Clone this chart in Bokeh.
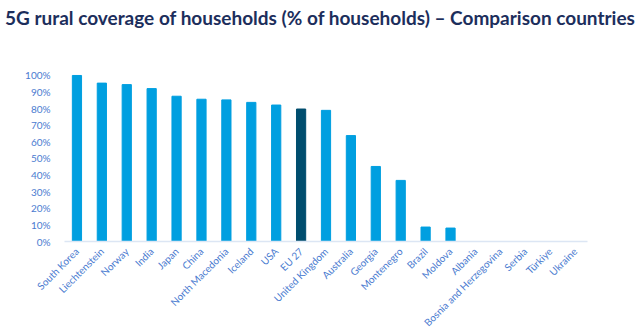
import math
from bokeh.plotting import figure
from bokeh.layouts import column
from bokeh.models import ColumnDataSource, NumeralTickFormatter, FixedTicker, Div
from bokeh.embed import file_html
from bokeh.resources import INLINE

countries = ["South Korea", "Liechtenstein", "Norway", "India", "Japan", "China",
             "North Macedonia", "Iceland", "USA", "EU 27", "United Kingdom", "Australia",
             "Georgia", "Montenegro", "Brazil", "Moldova", "Albania",
             "Bosnia and Herzegovina", "Serbia", "Türkiye", "Ukraine"]
coverage = [1.00, 0.954, 0.945, 0.921, 0.875, 0.857, 0.853, 0.838, 0.822, 0.798, 0.790,
            0.638, 0.452, 0.368, 0.087, 0.081, 0.0, 0.0, 0.0, 0.0, 0.0]
highlight = "EU 27"
y_ticks = [0, 0.1, 0.2, 0.3, 0.4, 0.5, 0.6, 0.7, 0.8, 0.9, 1.0]
title_text = "5G rural coverage of households (% of households) – Comparison countries"

title = Div(text=title_text, width=643, height=36, margin=0,
            styles={"font-family": "Lato", "font-size": "19px", "font-weight": "bold",
                    "color": "#1C2E5C", "padding-left": "5px", "padding-top": "6px",
                    "white-space": "nowrap", "line-height": "23px"})

colors = ["#004D6E" if c == highlight else "#009FE0" for c in countries]
src = ColumnDataSource(dict(x=countries, top=coverage, color=colors))

p = figure(x_range=countries, y_range=(0, 1.03), width=643, height=299,
           output_backend="svg", toolbar_location=None,
           min_border_left=64, min_border_right=56, min_border_top=34, min_border_bottom=91)

p.vbar(x="x", top="top", width=0.37, color="color", source=src)

p.xgrid.visible = False
p.ygrid.visible = False
p.outline_line_color = None

p.yaxis.ticker = FixedTicker(ticks=y_ticks)
p.yaxis.formatter = NumeralTickFormatter(format="0%")
p.yaxis.axis_line_color = None
p.yaxis.major_tick_line_color = None
p.yaxis.minor_tick_line_color = None
p.yaxis.major_label_text_font = "Lato"
p.yaxis.major_label_text_font_size = "10px"
p.yaxis.major_label_text_color = "#4A7BD0"
p.yaxis.major_label_standoff = 8

p.xaxis.axis_line_color = "#DCE6F4"
p.xaxis.axis_line_width = 1.5
p.xaxis.major_tick_line_color = None
p.xaxis.minor_tick_line_color = None
p.xaxis.major_label_orientation = math.pi / 4
p.xaxis.major_label_text_font = "Lato"
p.xaxis.major_label_text_font_size = "10px"
p.xaxis.major_label_text_color = "#4A7BD0"
p.xaxis.major_label_standoff = 2

layout = column(title, p, spacing=0)
open("out.html", "w").write(file_html(layout, INLINE))
